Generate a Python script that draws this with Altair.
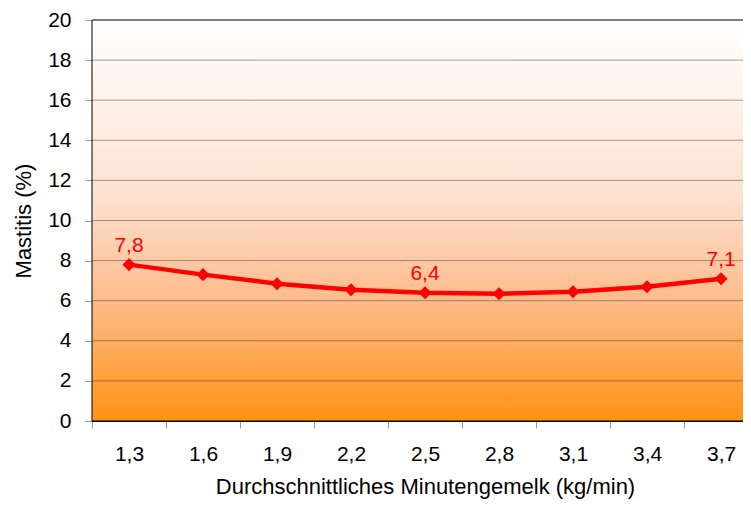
import altair as alt
import pandas as pd

x_vals = [1.3, 1.6, 1.9, 2.2, 2.5, 2.8, 3.1, 3.4, 3.7]
y_vals = [7.8, 7.3, 6.85, 6.55, 6.4, 6.35, 6.45, 6.7, 7.1]
point_labels = ["7,8", "", "", "", "6,4", "", "", "", "7,1"]
tick_bounds = [1.15, 1.45, 1.75, 2.05, 2.35, 2.65, 2.95, 3.25, 3.55]
y_ticks = [0, 2, 4, 6, 8, 10, 12, 14, 16, 18, 20]

df = pd.DataFrame({"x": x_vals, "y": y_vals, "lab": point_labels})
grid_df = pd.DataFrame({"y": y_ticks[1:-1]})
bg_df = pd.DataFrame({"a": [0]})

FONT = "Liberation Sans"

x_scale = alt.Scale(domain=[1.15, 3.789], nice=False, zero=False)
y_scale = alt.Scale(domain=[0, 20], nice=False)

x_axis = alt.Axis(
    values=tick_bounds + x_vals,
    labelExpr="round(datum.value*100) % 30 == 10 ? replace(format(datum.value, '.1f'), '.', ',') : ''",
    tickOpacity=alt.condition("round(datum.value*100) % 30 == 10", alt.value(0), alt.value(1)),
    labelOverlap=False,
    labelPadding=15,
    grid=False,
    title="Durchschnittliches Minutengemelk (kg/min)",
    titlePadding=12,
    titleX=333,
)

y_axis = alt.Axis(
    values=y_ticks,
    labelOverlap=False,
    labelPadding=14,
    grid=False,
    title="Mastitis (%)",
    titlePadding=12,
)

bg = alt.Chart(bg_df).mark_rect(
    stroke="black",
    strokeWidth=1,
    color=alt.LinearGradient(
        gradient="linear",
        x1=0, y1=0, x2=0, y2=1,
        stops=[
            alt.GradientStop(offset=0, color="#FFFFFF"),
            alt.GradientStop(offset=0.45, color="#FDE0CF"),
            alt.GradientStop(offset=0.7, color="#FDBB8A"),
            alt.GradientStop(offset=1, color="#FF9312"),
        ],
    ),
).encode(x=alt.value(0), x2=alt.value(680), y=alt.value(0), y2=alt.value(401))

grid = alt.Chart(grid_df).mark_rule(color="black", opacity=0.35, strokeWidth=1).encode(
    y=alt.Y("y:Q", scale=y_scale, axis=y_axis)
)

base = alt.Chart(df)
line = base.mark_line(color="#FF0000", strokeWidth=4.5).encode(
    x=alt.X("x:Q", scale=x_scale, axis=x_axis),
    y=alt.Y("y:Q", scale=y_scale, axis=y_axis),
)
pts = base.mark_point(shape="diamond", filled=True, color="#FF0000", size=170, opacity=1).encode(
    x=alt.X("x:Q", scale=x_scale, axis=x_axis),
    y=alt.Y("y:Q", scale=y_scale, axis=y_axis),
)
txt = base.mark_text(color="#FF0000", fontSize=21, font=FONT, dy=-19).encode(
    x=alt.X("x:Q", scale=x_scale, axis=x_axis),
    y=alt.Y("y:Q", scale=y_scale, axis=y_axis),
    text="lab:N",
)

chart = (
    alt.layer(bg, grid, line, pts, txt)
    .properties(
        width=651,
        height=401,
        background="white",
        autosize=alt.AutoSizeParams(type="none"),
        padding={"left": 84, "top": 12, "right": 0, "bottom": 78},
    )
    .configure_view(stroke=None)
    .configure_axis(
        labelFont=FONT,
        labelFontSize=21,
        labelColor="black",
        titleFont=FONT,
        titleFontSize=22,
        titleFontWeight="normal",
        titleColor="black",
        tickColor="#999999",
        tickSize=7,
        domainColor="black",
    )
)

chart.save("out.html", embed_options={"renderer": "svg", "actions": False})
